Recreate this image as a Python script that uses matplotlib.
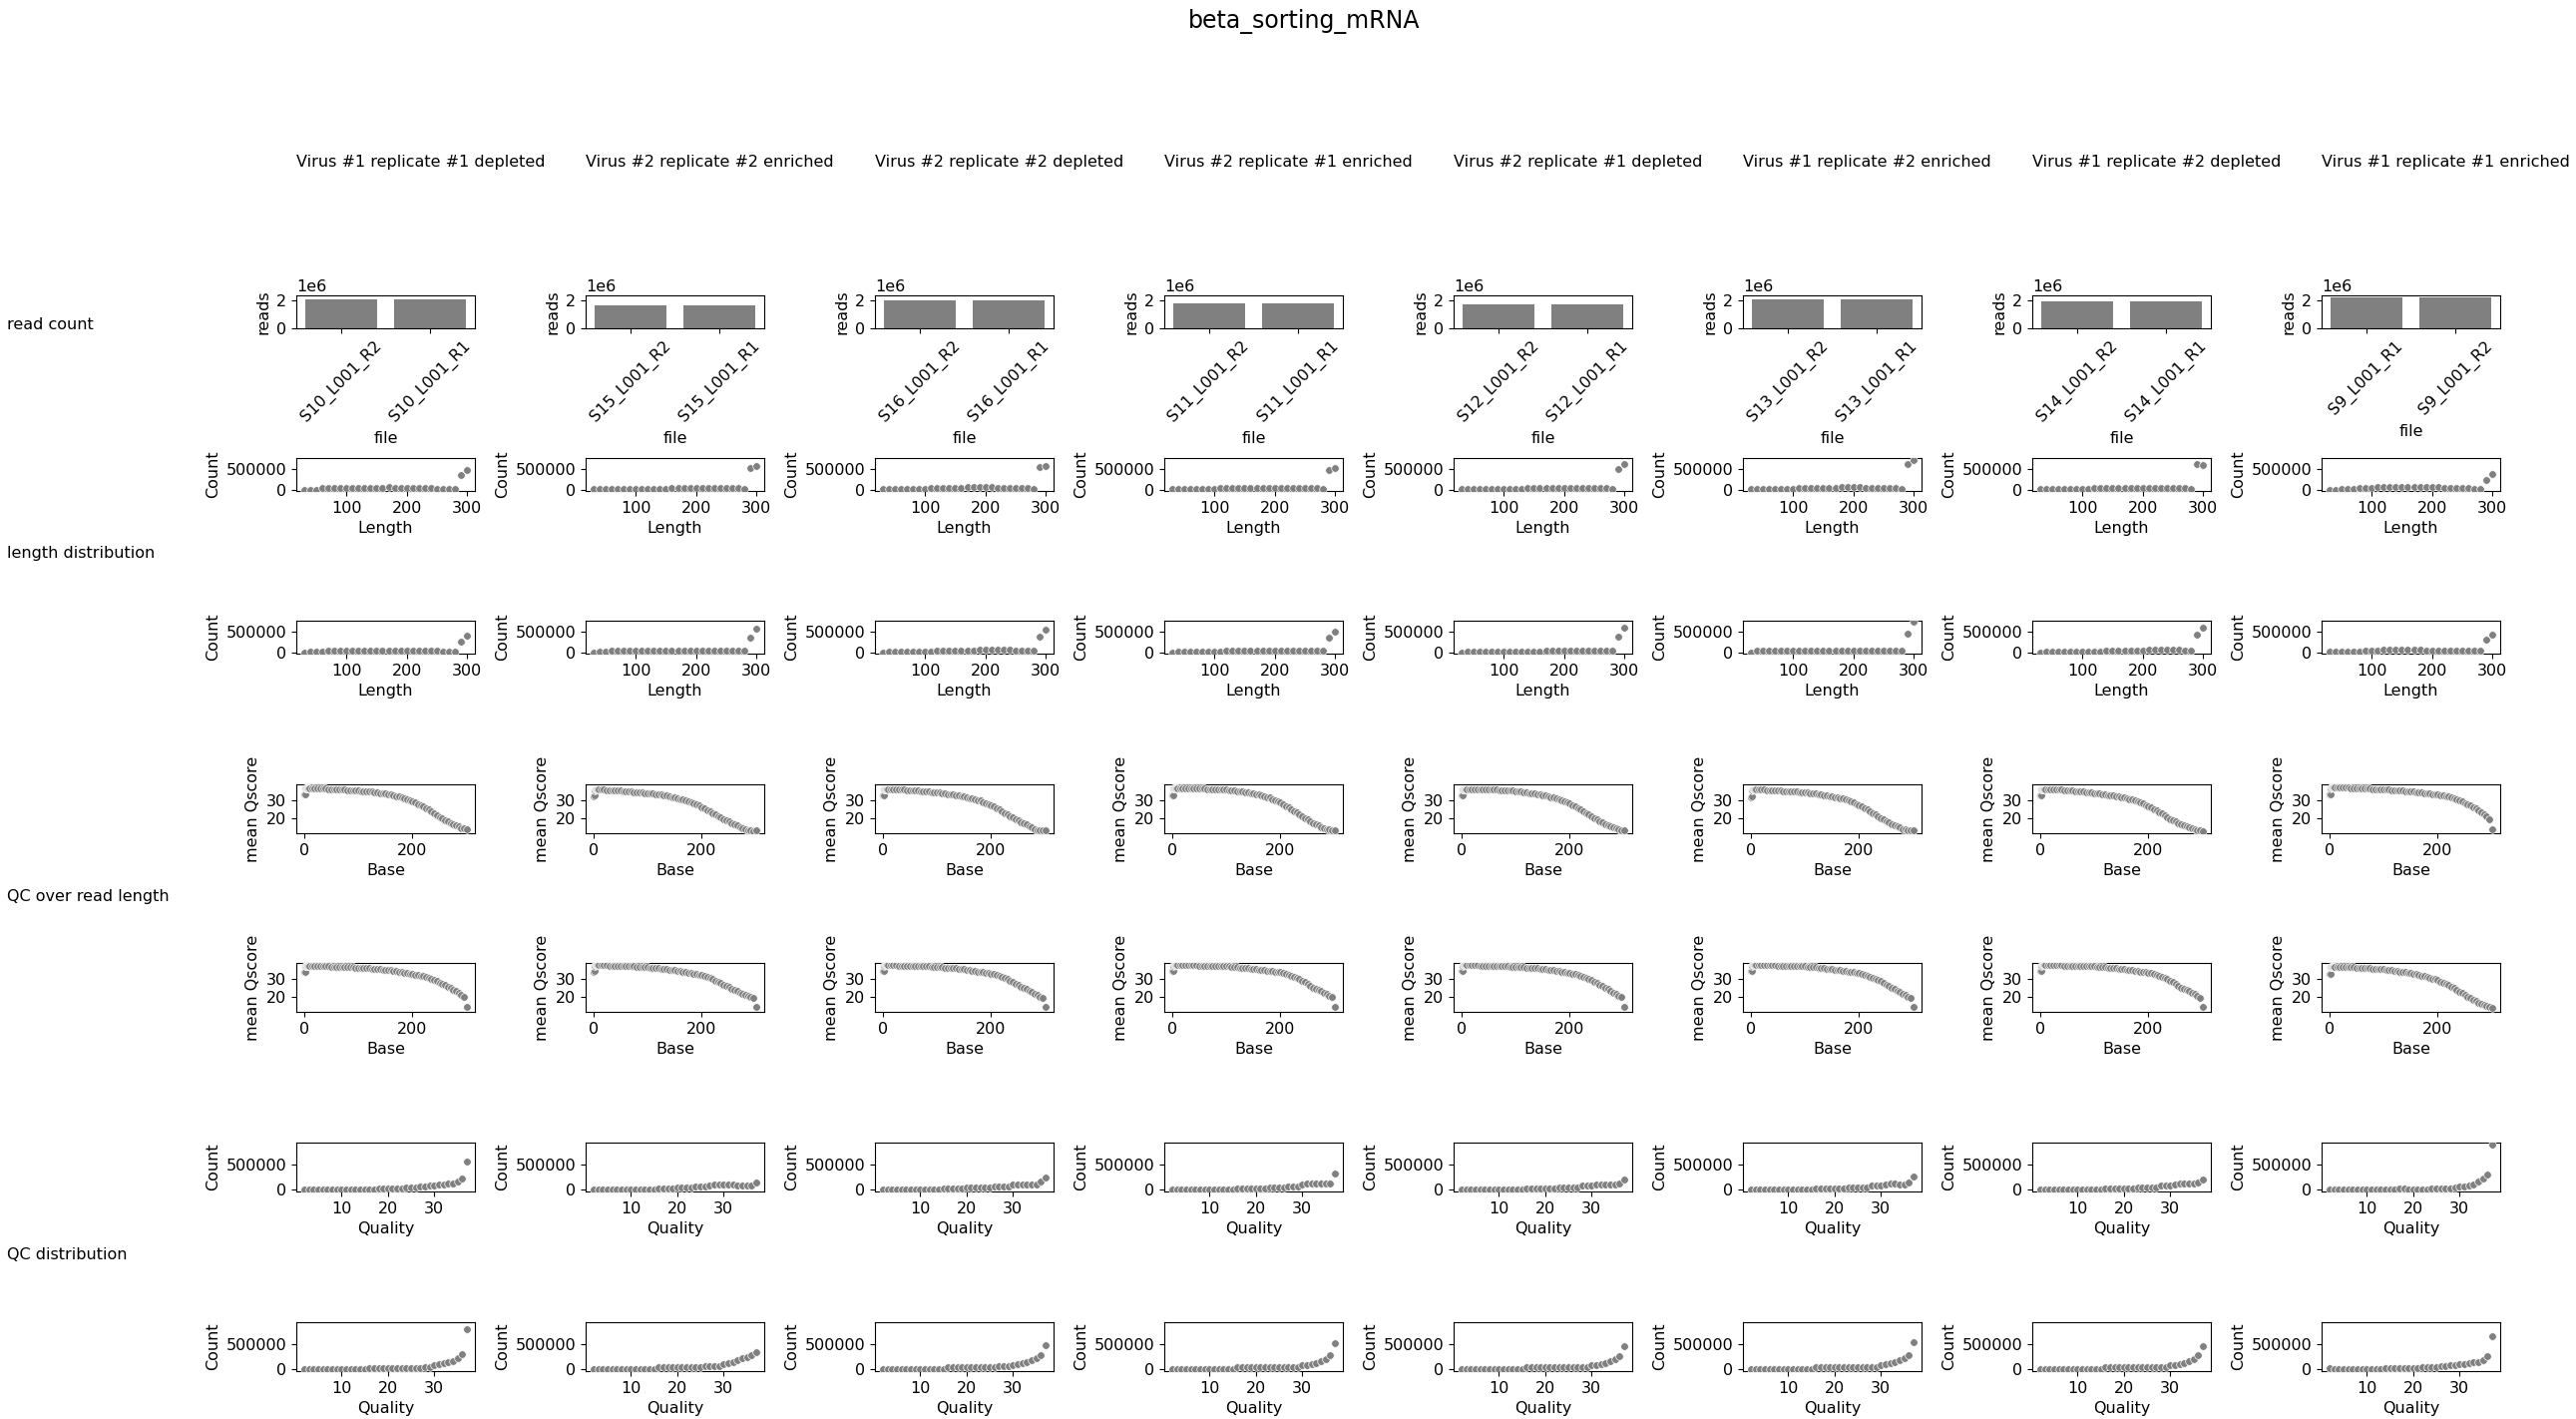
import matplotlib
matplotlib.use("Agg")
import matplotlib.pyplot as plt

# ---------------- data ----------------
sample_titles = ["Virus #1 replicate #1 depleted", "Virus #2 replicate #2 enriched",
                 "Virus #2 replicate #2 depleted", "Virus #2 replicate #1 enriched",
                 "Virus #2 replicate #1 depleted", "Virus #1 replicate #2 enriched",
                 "Virus #1 replicate #2 depleted", "Virus #1 replicate #1 enriched"]
sample_files = [["S10_L001_R2", "S10_L001_R1"], ["S15_L001_R2", "S15_L001_R1"],
                ["S16_L001_R2", "S16_L001_R1"], ["S11_L001_R2", "S11_L001_R1"],
                ["S12_L001_R2", "S12_L001_R1"], ["S13_L001_R2", "S13_L001_R1"],
                ["S14_L001_R2", "S14_L001_R1"], ["S9_L001_R1", "S9_L001_R2"]]
read_counts = [[2.05e6, 2.05e6], [1.60e6, 1.60e6], [1.95e6, 1.95e6], [1.75e6, 1.75e6],
               [1.70e6, 1.70e6], [2.05e6, 2.05e6], [1.90e6, 1.90e6], [2.22e6, 2.22e6]]

lengths = [30, 40, 50, 60, 70, 80, 90, 100, 110, 120, 130, 140, 150, 160, 170, 180,
           190, 200, 210, 220, 230, 240, 250, 260, 270, 280, 290, 300]
len_S10_R2 = [5000, 5000, 5000, 30000, 30000, 30000, 30000, 50000, 50000, 50000, 50000, 50000, 50000, 50000,
              75000, 45000, 45000, 45000, 45000, 45000, 45000, 45000, 20000, 20000, 20000, 20000, 350000, 467000]
len_S10_R1 = [5000, 15000, 15000, 15000, 30000, 30000, 30000, 30000, 50000, 50000, 50000, 50000, 50000, 50000,
              50000, 50000, 50000, 50000, 50000, 50000, 50000, 50000, 50000, 25000, 25000, 25000, 262000, 393000]
len_S15_R2 = [10000, 10000, 10000, 10000, 10000, 10000, 10000, 10000, 10000, 10000, 10000, 10000, 15000, 45000,
              45000, 45000, 45000, 45000, 45000, 45000, 45000, 45000, 45000, 45000, 45000, 20000, 522000, 571000]
len_S15_R1 = [5000, 10000, 10000, 30000, 30000, 30000, 30000, 30000, 30000, 30000, 30000, 30000, 30000, 30000,
              30000, 40000, 40000, 40000, 40000, 40000, 40000, 40000, 40000, 40000, 40000, 40000, 343000, 563000]
len_S16_R2 = [10000, 10000, 10000, 10000, 10000, 10000, 10000, 10000, 30000, 30000, 30000, 30000, 30000, 30000,
              60000, 60000, 60000, 60000, 60000, 35000, 35000, 35000, 35000, 35000, 35000, 15000, 547000, 571000]
len_S16_R1 = [5000, 25000, 25000, 25000, 25000, 25000, 25000, 25000, 25000, 35000, 35000, 35000, 35000, 35000,
              35000, 35000, 60000, 60000, 60000, 60000, 60000, 60000, 35000, 35000, 35000, 35000, 367000, 539000]
len_S11_R2 = [10000, 10000, 10000, 10000, 10000, 10000, 10000, 10000, 30000, 30000, 30000, 30000, 30000, 30000,
              50000, 50000, 50000, 50000, 50000, 50000, 30000, 30000, 30000, 30000, 30000, 10000, 473000, 522000]
len_S11_R1 = [5000, 20000, 20000, 20000, 20000, 20000, 20000, 20000, 20000, 35000, 35000, 35000, 35000, 35000,
              35000, 35000, 35000, 50000, 50000, 50000, 50000, 30000, 30000, 30000, 30000, 30000, 343000, 498000]
len_S12_R2 = [15000, 15000, 15000, 15000, 15000, 15000, 15000, 15000, 15000, 15000, 15000, 40000, 40000, 40000,
              40000, 40000, 40000, 40000, 40000, 40000, 40000, 40000, 40000, 40000, 40000, 20000, 500000, 623000]
len_S12_R1 = [5000, 25000, 25000, 25000, 25000, 25000, 25000, 25000, 25000, 25000, 25000, 25000, 25000, 25000,
              40000, 40000, 40000, 40000, 40000, 40000, 40000, 40000, 40000, 40000, 40000, 40000, 367000, 604000]
len_S13_R2 = [10000, 10000, 10000, 10000, 10000, 10000, 10000, 10000, 35000, 35000, 35000, 35000, 35000, 35000,
              35000, 55000, 55000, 55000, 55000, 35000, 35000, 35000, 35000, 35000, 35000, 15000, 615000, 705000]
len_S13_R1 = [5000, 30000, 30000, 30000, 30000, 30000, 30000, 30000, 30000, 30000, 30000, 30000, 30000, 30000,
              30000, 30000, 30000, 50000, 50000, 50000, 50000, 50000, 50000, 50000, 35000, 35000, 441000, 725000]
len_S14_R2 = [10000, 10000, 10000, 10000, 10000, 10000, 10000, 10000, 10000, 40000, 40000, 40000, 40000, 40000,
              40000, 40000, 40000, 40000, 40000, 40000, 40000, 40000, 40000, 40000, 40000, 15000, 623000, 598000]
len_S14_R1 = [5000, 25000, 25000, 25000, 25000, 25000, 25000, 25000, 25000, 25000, 25000, 35000, 35000, 35000,
              35000, 35000, 35000, 35000, 55000, 55000, 55000, 55000, 55000, 55000, 35000, 35000, 416000, 588000]
len_S9_R1 = [5000, 5000, 20000, 20000, 20000, 35000, 35000, 35000, 60000, 60000, 60000, 60000, 60000, 60000,
             60000, 60000, 60000, 60000, 60000, 40000, 40000, 40000, 40000, 40000, 25000, 25000, 242000, 379000]
len_S9_R2 = [10000, 10000, 25000, 25000, 25000, 25000, 40000, 40000, 40000, 60000, 60000, 60000, 60000, 60000,
             60000, 60000, 45000, 45000, 45000, 45000, 45000, 30000, 30000, 30000, 30000, 30000, 303000, 417000]

bases = [1, 2, 3, 4, 5, 6, 7, 8, 9, 10, 15, 20, 25, 30, 35, 40, 45, 50, 55, 60, 65, 70, 75, 80, 85, 90, 95,
         100, 105, 110, 115, 120, 125, 130, 135, 140, 145, 150, 155, 160, 165, 170, 175, 180, 185, 190, 195,
         200, 205, 210, 215, 220, 225, 230, 235, 240, 245, 250, 255, 260, 265, 270, 275, 280, 285, 290, 295, 300]
q_S10_R2 = [33.0, 33.1, 36.5, 36.7, 36.7, 36.7, 36.7, 36.7, 36.7, 36.7, 36.7, 36.6, 36.5, 36.4, 36.3, 36.3, 36.2,
            36.2, 36.1, 36.0, 35.9, 35.8, 35.7, 35.6, 35.5, 35.4, 35.3, 35.2, 35.1, 35.0, 34.9, 34.7, 34.6, 34.4,
            34.2, 34.0, 33.9, 33.7, 33.4, 33.0, 32.7, 32.3, 32.0, 31.7, 31.1, 30.5, 29.9, 29.3, 28.6, 27.9, 27.2,
            26.5, 25.6, 24.7, 23.7, 22.8, 21.8, 20.7, 19.7, 18.7, 18.0, 17.2, 16.5, 15.9, 15.2, 14.6, 14.2, 13.9]
q_S10_R1 = [33.6, 33.8, 36.8, 37.0, 37.0, 37.0, 37.0, 37.0, 37.0, 37.0, 37.0, 37.0, 37.0, 36.9, 36.9, 36.8, 36.8,
            36.7, 36.7, 36.6, 36.6, 36.5, 36.5, 36.4, 36.3, 36.3, 36.2, 36.1, 36.0, 35.9, 35.8, 35.7, 35.6, 35.5,
            35.4, 35.3, 35.1, 35.0, 34.8, 34.6, 34.3, 34.1, 33.8, 33.5, 33.3, 33.0, 32.7, 32.4, 32.1, 31.9, 31.6,
            31.3, 30.8, 30.3, 29.8, 29.3, 28.6, 27.9, 27.2, 26.5, 25.7, 24.8, 24.0, 23.1, 22.0, 20.9, 19.8, 14.3]
q_S15_R2 = [32.2, 32.4, 35.5, 35.7, 35.7, 35.7, 35.7, 35.7, 35.7, 35.7, 35.7, 35.7, 35.6, 35.6, 35.5, 35.4, 35.3,
            35.2, 35.0, 34.9, 34.8, 34.6, 34.5, 34.4, 34.2, 34.1, 33.9, 33.8, 33.6, 33.5, 33.3, 33.1, 33.0, 32.8,
            32.5, 32.1, 31.7, 31.3, 31.0, 30.6, 30.2, 29.8, 29.4, 28.9, 28.3, 27.6, 26.9, 26.2, 25.4, 24.5, 23.7,
            22.8, 22.0, 21.2, 20.4, 19.6, 18.8, 18.0, 17.2, 16.4, 15.8, 15.1, 14.5, 14.0, 13.5, 13.0, 12.9, 13.2]
q_S15_R1 = [33.9, 34.1, 37.2, 37.4, 37.4, 37.4, 37.4, 37.4, 37.4, 37.4, 37.4, 37.4, 37.4, 37.3, 37.3, 37.2, 37.2,
            37.1, 37.0, 37.0, 36.9, 36.8, 36.8, 36.7, 36.6, 36.6, 36.5, 36.4, 36.2, 36.1, 35.9, 35.7, 35.6, 35.4,
            35.2, 35.0, 34.9, 34.7, 34.5, 34.2, 33.9, 33.6, 33.3, 33.0, 32.7, 32.5, 32.2, 31.9, 31.3, 30.8, 30.2,
            29.6, 28.9, 28.2, 27.5, 26.8, 26.0, 25.3, 24.5, 23.8, 23.1, 22.3, 21.6, 20.9, 20.3, 19.7, 19.1, 14.3]
q_S16_R2 = [32.4, 32.6, 35.8, 36.0, 36.0, 36.0, 36.0, 36.0, 36.0, 36.0, 36.0, 36.0, 35.9, 35.9, 35.8, 35.7, 35.6,
            35.5, 35.4, 35.3, 35.2, 35.0, 34.9, 34.8, 34.7, 34.5, 34.4, 34.3, 34.1, 33.9, 33.7, 33.4, 33.2, 33.0,
            32.7, 32.4, 32.2, 31.9, 31.5, 31.2, 30.8, 30.4, 30.0, 29.6, 29.0, 28.4, 27.8, 27.2, 26.4, 25.5, 24.7,
            23.8, 22.9, 22.0, 21.1, 20.2, 19.4, 18.7, 17.9, 17.2, 16.4, 15.6, 14.8, 14.0, 13.5, 13.2, 13.1, 13.2]
q_S16_R1 = [34.2, 34.4, 37.2, 37.4, 37.4, 37.4, 37.4, 37.4, 37.4, 37.4, 37.4, 37.4, 37.4, 37.3, 37.3, 37.3, 37.2,
            37.2, 37.1, 37.1, 37.0, 37.0, 36.9, 36.9, 36.8, 36.7, 36.7, 36.6, 36.5, 36.4, 36.2, 36.1, 36.0, 35.8,
            35.7, 35.6, 35.4, 35.3, 35.0, 34.8, 34.5, 34.3, 34.0, 33.8, 33.5, 33.3, 33.0, 32.8, 32.4, 31.9, 31.5,
            31.0, 30.3, 29.6, 28.8, 28.1, 27.3, 26.5, 25.7, 24.9, 24.1, 23.2, 22.4, 21.5, 20.8, 20.0, 19.3, 14.3]
q_S11_R2 = [32.7, 32.9, 36.4, 36.6, 36.6, 36.6, 36.6, 36.6, 36.6, 36.6, 36.6, 36.6, 36.6, 36.5, 36.5, 36.5, 36.4,
            36.4, 36.3, 36.3, 36.2, 36.1, 36.1, 36.0, 35.9, 35.8, 35.8, 35.7, 35.5, 35.4, 35.2, 35.0, 34.8, 34.6,
            34.4, 34.2, 34.0, 33.8, 33.4, 33.0, 32.6, 32.1, 31.7, 31.3, 30.6, 30.0, 29.3, 28.7, 27.7, 26.8, 25.8,
            24.9, 23.9, 23.0, 22.0, 21.1, 20.1, 19.1, 18.2, 17.2, 16.5, 15.8, 15.1, 14.5, 14.0, 13.7, 13.5, 13.4]
q_S11_R1 = [34.2, 34.4, 37.3, 37.5, 37.5, 37.5, 37.5, 37.5, 37.5, 37.5, 37.5, 37.5, 37.5, 37.5, 37.4, 37.4, 37.4,
            37.3, 37.3, 37.3, 37.2, 37.2, 37.1, 37.1, 37.0, 37.0, 36.9, 36.9, 36.8, 36.6, 36.5, 36.4, 36.2, 36.1,
            35.9, 35.8, 35.6, 35.5, 35.3, 35.1, 34.9, 34.7, 34.5, 34.4, 34.2, 34.0, 33.8, 33.6, 33.1, 32.6, 32.2,
            31.7, 31.0, 30.3, 29.6, 28.9, 28.0, 27.0, 26.1, 25.1, 24.4, 23.7, 23.0, 22.3, 21.5, 20.6, 19.8, 14.3]
q_S12_R2 = [32.4, 32.6, 36.0, 36.2, 36.2, 36.2, 36.2, 36.2, 36.2, 36.2, 36.2, 36.2, 36.2, 36.1, 36.1, 36.0, 36.0,
            35.9, 35.8, 35.8, 35.7, 35.6, 35.5, 35.4, 35.4, 35.3, 35.2, 35.1, 34.9, 34.7, 34.5, 34.2, 34.0, 33.8,
            33.6, 33.3, 33.1, 32.8, 32.4, 32.1, 31.7, 31.3, 31.0, 30.6, 30.0, 29.4, 28.7, 28.1, 27.3, 26.5, 25.7,
            24.9, 23.9, 22.9, 21.9, 20.9, 20.0, 19.1, 18.3, 17.4, 16.8, 16.1, 15.5, 14.9, 14.3, 13.8, 13.4, 13.2]
q_S12_R1 = [34.2, 34.4, 37.3, 37.5, 37.5, 37.5, 37.5, 37.5, 37.5, 37.5, 37.5, 37.5, 37.4, 37.4, 37.3, 37.3, 37.2,
            37.2, 37.1, 37.1, 37.0, 37.0, 36.9, 36.9, 36.8, 36.7, 36.7, 36.6, 36.5, 36.4, 36.3, 36.2, 36.1, 36.0,
            35.8, 35.7, 35.6, 35.5, 35.3, 35.0, 34.8, 34.6, 34.4, 34.1, 33.9, 33.7, 33.4, 33.2, 32.8, 32.4, 32.1,
            31.7, 31.1, 30.5, 29.8, 29.2, 28.4, 27.6, 26.8, 26.0, 25.1, 24.1, 23.2, 22.3, 21.5, 20.6, 19.8, 14.3]
q_S13_R2 = [31.8, 32.0, 35.5, 35.7, 35.7, 35.7, 35.7, 35.7, 35.7, 35.7, 35.7, 35.7, 35.7, 35.6, 35.6, 35.5, 35.4,
            35.3, 35.2, 35.1, 35.0, 34.9, 34.8, 34.7, 34.6, 34.5, 34.4, 34.3, 34.1, 33.9, 33.7, 33.5, 33.3, 33.0,
            32.8, 32.5, 32.3, 32.1, 31.7, 31.4, 31.0, 30.7, 30.3, 30.0, 29.3, 28.6, 27.9, 27.2, 26.4, 25.5, 24.7,
            23.8, 22.8, 21.9, 20.9, 20.0, 19.2, 18.4, 17.6, 16.8, 16.1, 15.4, 14.7, 14.0, 13.6, 13.3, 13.1, 13.2]
q_S13_R1 = [34.2, 34.4, 37.3, 37.5, 37.5, 37.5, 37.5, 37.5, 37.5, 37.5, 37.5, 37.5, 37.5, 37.5, 37.4, 37.4, 37.4,
            37.3, 37.3, 37.3, 37.2, 37.2, 37.1, 37.1, 37.0, 37.0, 36.9, 36.9, 36.7, 36.6, 36.4, 36.3, 36.1, 35.9,
            35.8, 35.6, 35.5, 35.3, 35.1, 34.8, 34.6, 34.4, 34.1, 33.9, 33.7, 33.5, 33.2, 33.0, 32.5, 32.0, 31.6,
            31.1, 30.4, 29.8, 29.1, 28.5, 27.6, 26.8, 25.9, 25.1, 24.3, 23.4, 22.6, 21.7, 20.8, 20.0, 19.1, 14.3]
q_S14_R2 = [32.4, 32.6, 35.8, 36.0, 36.0, 36.0, 36.0, 36.0, 36.0, 36.0, 36.0, 36.0, 35.9, 35.9, 35.8, 35.7, 35.6,
            35.5, 35.4, 35.3, 35.1, 35.0, 34.9, 34.7, 34.5, 34.4, 34.2, 34.0, 33.8, 33.6, 33.4, 33.1, 32.9, 32.7,
            32.5, 32.2, 32.0, 31.7, 31.3, 30.9, 30.6, 30.2, 29.8, 29.4, 28.7, 28.0, 27.3, 26.6, 25.8, 25.0, 24.2,
            23.4, 22.4, 21.5, 20.5, 19.6, 18.8, 18.0, 17.2, 16.4, 15.8, 15.2, 14.7, 14.3, 13.9, 13.5, 13.1, 12.8]
q_S14_R1 = [34.2, 34.4, 37.3, 37.5, 37.5, 37.5, 37.5, 37.5, 37.5, 37.5, 37.5, 37.5, 37.5, 37.4, 37.4, 37.4, 37.3,
            37.3, 37.2, 37.2, 37.2, 37.1, 37.1, 37.0, 37.0, 36.9, 36.8, 36.8, 36.7, 36.5, 36.4, 36.3, 36.1, 36.0,
            35.9, 35.7, 35.6, 35.5, 35.3, 35.1, 34.9, 34.6, 34.4, 34.2, 34.0, 33.8, 33.6, 33.4, 33.0, 32.5, 32.1,
            31.7, 31.0, 30.3, 29.6, 28.9, 28.0, 27.0, 26.1, 25.1, 24.4, 23.7, 23.0, 22.3, 21.3, 20.4, 19.4, 14.3]
q_S9_R1 = [33.2, 33.4, 36.7, 36.9, 36.9, 36.9, 36.9, 36.9, 36.9, 36.9, 36.9, 36.9, 36.9, 36.8, 36.8, 36.7, 36.7,
           36.6, 36.6, 36.5, 36.4, 36.4, 36.3, 36.2, 36.1, 36.0, 36.0, 35.9, 35.8, 35.7, 35.6, 35.5, 35.4, 35.3,
           35.2, 35.0, 34.9, 34.8, 34.6, 34.4, 34.3, 34.1, 33.9, 33.7, 33.5, 33.4, 33.2, 33.0, 32.8, 32.5, 32.3,
           32.0, 31.5, 30.9, 30.4, 29.8, 29.1, 28.4, 27.7, 27.0, 26.1, 25.2, 24.2, 23.3, 22.1, 20.8, 19.6, 13.9]
q_S9_R2 = [32.7, 32.9, 36.5, 36.7, 36.7, 36.7, 36.7, 36.7, 36.7, 36.7, 36.7, 36.7, 36.6, 36.6, 36.5, 36.4, 36.3,
           36.2, 36.1, 36.0, 35.9, 35.8, 35.7, 35.6, 35.5, 35.4, 35.3, 35.2, 35.0, 34.8, 34.6, 34.4, 34.1, 33.9,
           33.7, 33.5, 33.2, 33.0, 32.7, 32.4, 32.1, 31.7, 31.4, 31.1, 30.6, 30.1, 29.6, 29.1, 28.4, 27.7, 27.0,
           26.3, 25.4, 24.6, 23.7, 22.8, 21.9, 20.9, 20.0, 19.1, 18.3, 17.6, 16.8, 16.1, 15.4, 14.8, 14.3, 13.9]

qualities = [2, 3, 4, 5, 6, 7, 8, 9, 10, 11, 12, 13, 14, 15, 16, 17, 18, 19, 20, 21, 22, 23, 24, 25,
             26, 27, 28, 29, 30, 31, 32, 33, 34, 35, 36, 37]
qc_S10_R2 = [5000] * 16 + [20000] * 6 + [40000, 40000, 40000, 54000, 68000, 74000, 80000, 95000, 108000,
                                         115000, 128000, 162000, 216000, 561000]
qc_S10_R1 = [5000] * 14 + [27000] * 12 + [41000, 48000, 75000, 103000, 123000, 144000, 171000, 226000,
                                          301000, 795000]
qc_S15_R2 = [5000] * 14 + [20000, 20000, 20000, 20000, 40000, 40000, 40000, 40000, 55000, 62000, 70000,
                           78000, 100000, 100000, 100000, 100000, 100000, 74000, 74000, 74000, 74000, 142000]
qc_S15_R1 = [5000] * 14 + [33000] * 10 + [60000, 60000, 60000, 60000, 93000, 113000, 140000, 180000,
                                          213000, 247000, 280000, 333000]
qc_S16_R2 = [5000] * 13 + [20000] * 5 + [40000] * 6 + [68000, 68000, 68000, 68000, 108000, 108000, 108000,
                                                      108000, 95000, 95000, 155000, 243000]
qc_S16_R1 = [5000] * 14 + [33000] * 11 + [53000, 53000, 53000, 80000, 100000, 120000, 147000, 180000,
                                          220000, 287000, 480000]
qc_S11_R2 = [5000] * 14 + [20000] * 7 + [40000] * 4 + [68000, 68000, 68000, 95000, 122000, 122000, 122000,
                                                      122000, 122000, 122000, 318000]
qc_S11_R1 = [5000] * 14 + [33000] * 11 + [47000, 47000, 47000, 73000, 87000, 107000, 127000, 160000,
                                          207000, 273000, 527000]
qc_S12_R2 = [5000] * 14 + [20000] * 7 + [45000] * 5 + [75000, 75000, 75000, 110000, 110000, 105000, 105000,
                                                      110000, 125000, 200000]
qc_S12_R1 = [5000] * 14 + [33000] * 11 + [50000, 50000, 50000, 75000, 90000, 110000, 130000, 165000,
                                          210000, 270000, 460000]
qc_S13_R2 = [5000] * 14 + [20000] * 7 + [45000] * 5 + [75000, 75000, 75000, 105000, 120000, 120000, 110000,
                                                      110000, 140000, 260000]
qc_S13_R1 = [5000] * 14 + [33000] * 11 + [50000, 50000, 50000, 75000, 95000, 115000, 140000, 175000,
                                          220000, 290000, 540000]
qc_S14_R2 = [5000] * 14 + [20000] * 7 + [45000] * 5 + [75000, 75000, 80000, 110000, 120000, 120000, 115000,
                                                      115000, 135000, 200000]
qc_S14_R1 = [5000] * 14 + [33000] * 11 + [50000, 50000, 50000, 75000, 90000, 110000, 130000, 165000,
                                          210000, 275000, 470000]
qc_S9_R1 = [5000] * 15 + [20000, 20000] + [5000] * 5 + [20000] * 5 + [34000, 54000, 61000, 74000, 108000,
                                                                      155000, 216000, 311000, 899000]
qc_S9_R2 = [27000] + [7000] * 11 + [27000] * 7 + [20000, 48000, 48000, 48000, 48000, 68000, 68000, 82000,
                                                   82000, 103000, 110000, 130000, 137000, 137000, 178000,
                                                   260000, 671000]

length_data = {"S10_L001_R2": len_S10_R2, "S10_L001_R1": len_S10_R1, "S15_L001_R2": len_S15_R2,
               "S15_L001_R1": len_S15_R1, "S16_L001_R2": len_S16_R2, "S16_L001_R1": len_S16_R1,
               "S11_L001_R2": len_S11_R2, "S11_L001_R1": len_S11_R1, "S12_L001_R2": len_S12_R2,
               "S12_L001_R1": len_S12_R1, "S13_L001_R2": len_S13_R2, "S13_L001_R1": len_S13_R1,
               "S14_L001_R2": len_S14_R2, "S14_L001_R1": len_S14_R1, "S9_L001_R1": len_S9_R1,
               "S9_L001_R2": len_S9_R2}
qscore_data = {"S10_L001_R2": q_S10_R2, "S10_L001_R1": q_S10_R1, "S15_L001_R2": q_S15_R2,
               "S15_L001_R1": q_S15_R1, "S16_L001_R2": q_S16_R2, "S16_L001_R1": q_S16_R1,
               "S11_L001_R2": q_S11_R2, "S11_L001_R1": q_S11_R1, "S12_L001_R2": q_S12_R2,
               "S12_L001_R1": q_S12_R1, "S13_L001_R2": q_S13_R2, "S13_L001_R1": q_S13_R1,
               "S14_L001_R2": q_S14_R2, "S14_L001_R1": q_S14_R1, "S9_L001_R1": q_S9_R1,
               "S9_L001_R2": q_S9_R2}
qual_data = {"S10_L001_R2": qc_S10_R2, "S10_L001_R1": qc_S10_R1, "S15_L001_R2": qc_S15_R2,
             "S15_L001_R1": qc_S15_R1, "S16_L001_R2": qc_S16_R2, "S16_L001_R1": qc_S16_R1,
             "S11_L001_R2": qc_S11_R2, "S11_L001_R1": qc_S11_R1, "S12_L001_R2": qc_S12_R2,
             "S12_L001_R1": qc_S12_R1, "S13_L001_R2": qc_S13_R2, "S13_L001_R1": qc_S13_R1,
             "S14_L001_R2": qc_S14_R2, "S14_L001_R1": qc_S14_R1, "S9_L001_R1": qc_S9_R1,
             "S9_L001_R2": qc_S9_R2}

row_labels = ["read count", "length distribution", "QC over read length", "QC distribution"]

# ---------------- layout ----------------
W, H = 2582, 1422
plt.rcParams["font.family"] = ["DejaVu Sans"]
plt.rcParams["font.size"] = 11.5
fig = plt.figure(figsize=(W / 100, H / 100), dpi=100)


def ax_at(left, top, w, h, **kw):
    return fig.add_axes([left / W, 1 - (top + h) / H, w / W, h / H], **kw)


col_left = [297 + 290 * i for i in range(8)]
AXW = 179
GRAY = "#808080"
SC = dict(s=30, color=GRAY, edgecolors="white", linewidths=0.5, zorder=3)

fig.text(1307 / W, 1 - 21 / H, "beta_sorting_mRNA", ha="center", va="center", fontsize=17)
for lab, yy in zip(row_labels, [326, 555, 898, 1257]):
    fig.text(7 / W, 1 - yy / H, lab, ha="left", va="center", fontsize=11.5)

bar_share = None
len_share = None
q_share = None
qual_share = None
for i in range(8):
    L = col_left[i]
    fig.text(L / W, 1 - 162 / H, sample_titles[i], ha="left", va="center", fontsize=11.5)
    files = sample_files[i]

    # read count
    ax = ax_at(L, 296, AXW, 33, sharey=bar_share)
    bar_share = bar_share or ax
    ax.bar(range(len(files)), read_counts[i], width=0.8, color=GRAY)
    ax.set_xlim(-0.5, len(files) - 0.5)
    ax.set_xticks(range(len(files)))
    ax.set_xticklabels(files, rotation=45, ha="center")
    ax.set_yticks([0, 2e6])
    ax.set_xlabel("file")
    ax.set_ylabel("reads")

    # length distribution
    for r, top in enumerate([459, 622]):
        ax = ax_at(L, top, AXW, 33, sharey=len_share)
        len_share = len_share or ax
        ax.scatter(lengths, length_data[files[r]], **SC)
        ax.set_xticks([100, 200, 300])
        ax.set_yticks([0, 500000])
        ax.set_xlabel("Length")
        ax.set_ylabel("Count")

    # QC over read length
    for r, top in enumerate([786, 965]):
        ax = ax_at(L, top, AXW, 49, sharey=q_share)
        q_share = q_share or ax
        ax.scatter(bases, qscore_data[files[r]], **SC)
        ax.set_xticks([0, 200])
        ax.set_yticks([20, 30])
        ax.set_xlabel("Base")
        ax.set_ylabel("mean Qscore")

    # QC distribution
    for r, top in enumerate([1145, 1325]):
        ax = ax_at(L, top, AXW, 49, sharey=qual_share)
        qual_share = qual_share or ax
        ax.scatter(qualities, qual_data[files[r]], **SC)
        ax.set_xticks([10, 20, 30])
        ax.set_yticks([0, 500000])
        ax.set_xlabel("Quality")
        ax.set_ylabel("Count")

fig.savefig("out.png", dpi=100)
